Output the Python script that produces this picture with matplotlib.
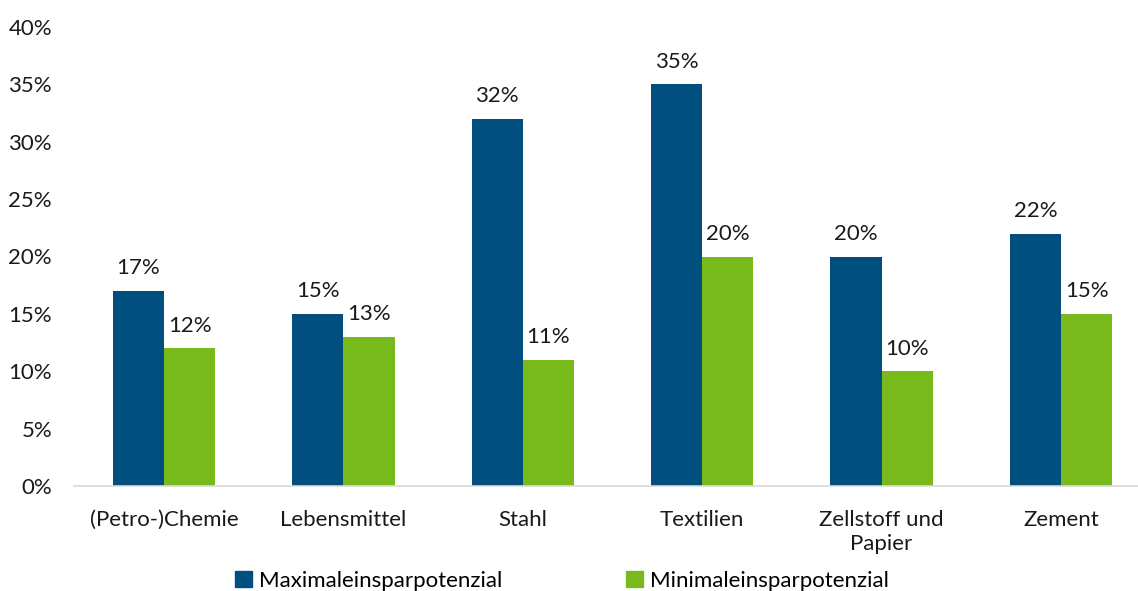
import matplotlib
matplotlib.use("Agg")
import matplotlib.pyplot as plt
import numpy as np
from matplotlib.patches import Patch

categories = ["(Petro-)Chemie", "Lebensmittel", "Stahl", "Textilien", "Zellstoff und\nPapier", "Zement"]
max_vals = [17, 15, 32, 35, 20, 22]
min_vals = [12, 13, 11, 20, 10, 15]
series_names = ["Maximaleinsparpotenzial", "Minimaleinsparpotenzial"]
colors = ["#014f7e", "#78b91b"]

plt.rcParams['font.family'] = ['Lato', 'DejaVu Sans']

fig = plt.figure(figsize=(11.38, 5.91), dpi=100)
ax = fig.add_axes([74.3/1138, (591-486)/591, 1076.4/1138, (486-27)/591])

x = np.arange(len(categories))
w = 0.285
b1 = ax.bar(x - w/2, max_vals, w, color=colors[0])
b2 = ax.bar(x + w/2, min_vals, w, color=colors[1])

fs = 16
for bars, vals in ((b1, max_vals), (b2, min_vals)):
    for r, v in zip(bars, vals):
        ax.annotate(f"{v}%", (r.get_x() + r.get_width()/2, v), xytext=(0, 9),
                    textcoords="offset points", ha="center", va="bottom", fontsize=fs, color="#1a1a1a")

ax.set_ylim(0, 40)
ax.set_xlim(-0.5, len(categories) - 0.5)
ax.set_yticks(np.arange(0, 41, 5))
ax.set_yticklabels([f"{t}%" for t in range(0, 41, 5)], fontsize=fs, color="#1a1a1a")
ax.set_xticks(x)
ax.set_xticklabels(categories, fontsize=fs, color="#1a1a1a", va="top", linespacing=1.25)
ax.tick_params(axis="both", length=0)
ax.tick_params(axis="x", pad=17)
ax.tick_params(axis="y", pad=16)
for s in ["top", "right", "left"]:
    ax.spines[s].set_visible(False)
ax.spines["bottom"].set_color("#d9d9d9")
ax.spines["bottom"].set_linewidth(1.2)

handles = [Patch(color=c) for c in colors]
fig.legend(handles, series_names, loc="center", bbox_to_anchor=(562/1138, 1 - 581/591),
           ncol=2, frameon=False, fontsize=fs, handlelength=0.75, handleheight=0.75,
           handletextpad=0.3, columnspacing=5.6)

fig.savefig("out.png", dpi=100)
